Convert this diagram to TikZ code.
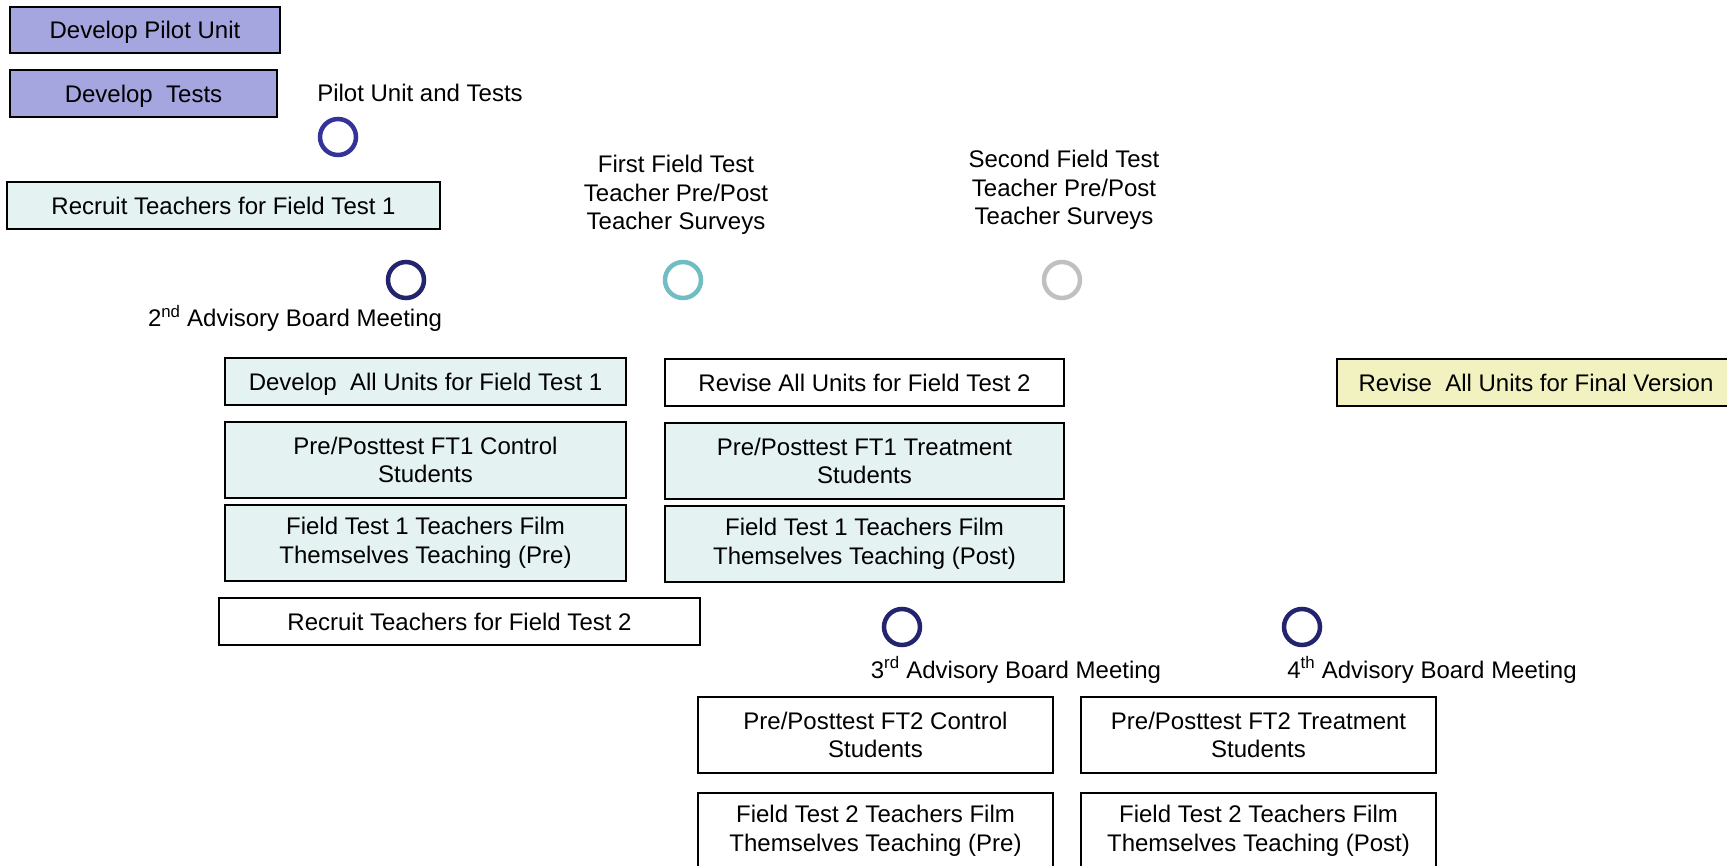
\documentclass[tikz,border=0pt]{standalone}
\usepackage{fontspec}
\setmainfont{Liberation Sans}
\usetikzlibrary{positioning}
\definecolor{pilotlav}{RGB}{165,165,224}
\definecolor{ftcyan}{RGB}{228,242,242}
\definecolor{finyellow}{RGB}{242,242,192}
\definecolor{pilotblue}{RGB}{51,51,153}
\definecolor{boardnavy}{RGB}{35,35,110}
\definecolor{ftteal}{RGB}{112,190,196}
\definecolor{ftgray}{RGB}{192,192,192}
\newcommand{\tlfont}{\fontsize{24}{28.5}\selectfont}
\tikzset{
    task/.style={rectangle, draw=black, fill=#1, line width=2pt, minimum height=47pt,
                 inner sep=0pt, align=center, font=\tlfont},
    task/.default=white,
    oneline/.style={text height=22.5pt, text depth=5pt},
    mstone/.style={circle, draw=#1, line width=4.5pt, minimum size=36pt, inner sep=0pt},
    lbl/.style={font=\tlfont, align=center, inner sep=0pt},
}

\begin{document}
\begin{tikzpicture}[x=1pt, y=-1pt, node distance=15pt and 26pt]
    \useasboundingbox (0,0) rectangle (1727,866);

    % pilot phase
    \node[task=pilotlav, oneline, minimum width=270pt, minimum height=46pt] (dpu) at (145,30) {Develop Pilot Unit};
    \node[task=pilotlav, oneline, minimum width=267pt] (dtest) at (143.5,93.5) {Develop\ \ Tests};
    \node[lbl, anchor=base] (pilotlbl) at (420,102) {Pilot Unit and Tests};
    \node[mstone=pilotblue] (pilot) at (338,137) {};
    \node[task=ftcyan, oneline, minimum width=433pt] (rft1) at (223.5,206) {Recruit Teachers for Field Test 1};
    \node[mstone=boardnavy] (adv2) at (406,280) {};
    \node[lbl, anchor=base] (adv2lbl) at (295,327) {2\textsuperscript{nd} Advisory Board Meeting};

    % surveys
    \node[lbl] (ft1lbl) at (676,195) {First Field Test\\Teacher Pre/Post\\Teacher Surveys};
    \node[mstone=ftteal] (ft1) at (683,280) {};
    \node[lbl] (ft2lbl) at (1064,190) {Second Field Test\\Teacher Pre/Post\\Teacher Surveys};
    \node[mstone=ftgray] (ft2) at (1062,280) {};

    % field test 1
    \node[task=ftcyan, oneline, minimum width=401pt] (dft1) at (425.5,381.5) {Develop\ \ All Units for Field Test 1};
    \node[task=ftcyan, minimum width=401pt, minimum height=76pt, below=of dft1] (ppc1)
        {Pre/Posttest FT1 Control\\Students};
    \node[task=ftcyan, minimum width=401pt, minimum height=76pt, below=5pt of ppc1] (fpre1)
        {Field Test 1 Teachers Film\\Themselves Teaching (Pre)};
    \node[task, oneline, minimum width=399pt] (rvft2) at (864.5,382.5) {Revise All Units for Field Test 2};
    \node[task=ftcyan, minimum width=399pt, minimum height=76pt, below=of rvft2] (ppt1)
        {Pre/Posttest FT1 Treatment\\Students};
    \node[task=ftcyan, minimum width=399pt, minimum height=76pt, below=5pt of ppt1] (fpost1)
        {Field Test 1 Teachers Film\\Themselves Teaching (Post)};
    \node[task=finyellow, oneline, minimum width=398pt] (rvfin) at (1536,382.5) {Revise\ \ All Units for Final Version};

    % field test 2
    \node[task, oneline, minimum width=481pt] (rft2) at (459.5,621.5) {Recruit Teachers for Field Test 2};
    \node[mstone=boardnavy] (adv3) at (902,627) {};
    \node[mstone=boardnavy] (adv4) at (1302,627) {};
    \node[lbl, anchor=base] (adv3lbl) at (1016,678) {3\textsuperscript{rd} Advisory Board Meeting};
    \node[lbl, anchor=base] (adv4lbl) at (1432,678) {4\textsuperscript{th} Advisory Board Meeting};
    \node[task, minimum width=355pt, minimum height=76pt] (ppc2) at (875.5,735)
        {Pre/Posttest FT2 Control\\Students};
    \node[task, minimum width=355pt, minimum height=76pt, right=of ppc2] (ppt2)
        {Pre/Posttest FT2 Treatment\\Students};
    \node[task, minimum width=355pt, minimum height=76pt, below=18pt of ppc2] (fpre2)
        {Field Test 2 Teachers Film\\Themselves Teaching (Pre)};
    \node[task, minimum width=355pt, minimum height=76pt, right=of fpre2] (fpost2)
        {Field Test 2 Teachers Film\\Themselves Teaching (Post)};
\end{tikzpicture}
\end{document}
